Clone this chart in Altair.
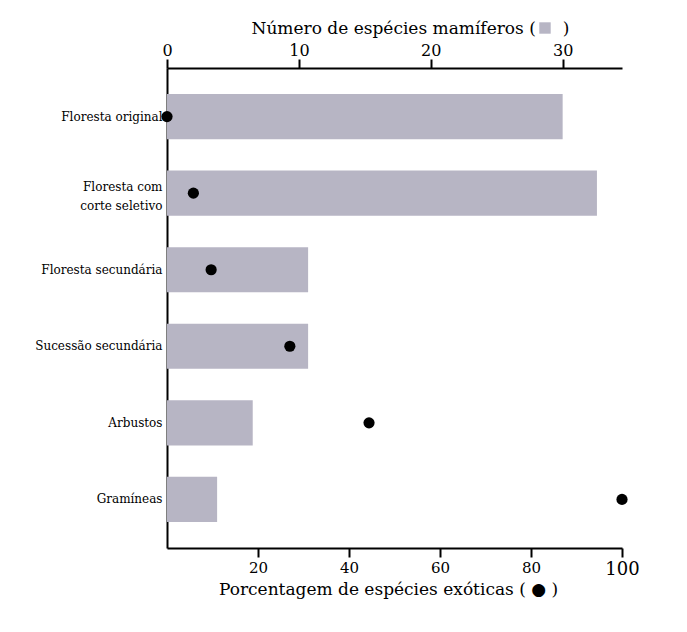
import altair as alt
import pandas as pd

habitats = [
    "Floresta original",
    "Floresta com corte seletivo",
    "Floresta secundária",
    "Sucessão secundária",
    "Arbustos",
    "Gramíneas",
]
mamiferos = [30.0, 32.6, 10.7, 10.7, 6.5, 3.8]
exoticas = [0, 5.8, 9.7, 27, 44.4, 100]

bar_color = "#b7b5c4"
font = "DejaVu Serif"
nb = "\u00a0"
two_lines = "Floresta com corte seletivo"

df = pd.DataFrame(
    {
        "habitat": habitats,
        "mamiferos": mamiferos,
        "exoticas": exoticas,
        "serie": ["mamiferos"] * len(habitats),
    }
)

y_enc = alt.Y(
    "habitat:N",
    sort=habitats,
    title=None,
    scale=alt.Scale(paddingInner=0.41, paddingOuter=0.34),
    axis=alt.Axis(
        domainColor="black",
        domainWidth=2,
        ticks=False,
        labelFont=font,
        labelFontSize=12,
        labelColor="black",
        labelPadding=5,
        labelLineHeight=19,
        labelOffset={"condition": {"test": f"datum.label == '{two_lines}'", "value": -6}, "value": 0},
        labelExpr=f"datum.label == '{two_lines}' ? ['Floresta  com', 'corte seletivo'] : datum.label",
    ),
)

bars = (
    alt.Chart(df)
    .mark_bar(clip=False)
    .encode(
        x=alt.X(
            "mamiferos:Q",
            scale=alt.Scale(domain=[0, 34.5], nice=False),
            axis=alt.Axis(
                orient="top",
                values=[0, 10, 20, 30],
                grid=False,
                domainColor="black",
                domainWidth=2,
                tickColor="black",
                tickWidth=2,
                tickSize=9,
                labelFont=font,
                labelFontSize=16,
                labelColor="black",
                labelPadding=1,
                labelFlush=False,
                title="Número de espécies mamíferos (" + nb * 5 + ")",
                titleFont=font,
                titleFontSize=17,
                titleFontWeight="normal",
                titleColor="black",
                titleX=243,
                titleY=-35,
                titleBaseline="alphabetic",
            ),
        ),
        y=y_enc,
        color=alt.Color(
            "serie:N",
            scale=alt.Scale(range=[bar_color]),
            legend=alt.Legend(
                orient="none",
                legendX=372,
                legendY=-46,
                title=None,
                labelExpr="''",
                labelFontSize=1,
                symbolType="square",
                symbolSize=130,
                symbolStrokeWidth=0,
                symbolOpacity=1,
                padding=0,
            ),
        ),
    )
)

dots = (
    alt.Chart(df)
    .mark_point(filled=True, color="black", size=125, opacity=1, clip=False)
    .encode(
        x=alt.X(
            "exoticas:Q",
            scale=alt.Scale(domain=[0, 100], nice=False),
            axis=alt.Axis(
                orient="bottom",
                values=[20, 40, 60, 80, 100],
                grid=False,
                domainColor="black",
                domainWidth=2,
                tickColor="black",
                tickWidth=2,
                tickSize=9,
                labelFont=font,
                labelFontSize={"condition": {"test": "datum.value == 100", "value": 18}, "value": 15},
                labelColor="black",
                labelPadding=3,
                labelBaseline="top",
                labelFlush=False,
                title="Porcentagem de espécies exóticas (" + nb + "●" + nb + ")",
                titleFont=font,
                titleFontSize=17,
                titleFontWeight="normal",
                titleColor="black",
                titleX=221,
                titleY=46,
                titleBaseline="alphabetic",
            ),
        ),
        y=alt.Y("habitat:N", sort=habitats),
    )
)

chart = (
    alt.layer(bars, dots)
    .resolve_scale(x="independent")
    .properties(
        width=455,
        height=480,
        autosize=alt.AutoSizeParams(type="none"),
        padding={"left": 159, "top": 60, "right": 40, "bottom": 70},
    )
    .configure_view(stroke=None)
)

chart.save("out.html", embed_options={"renderer": "svg", "actions": False})
